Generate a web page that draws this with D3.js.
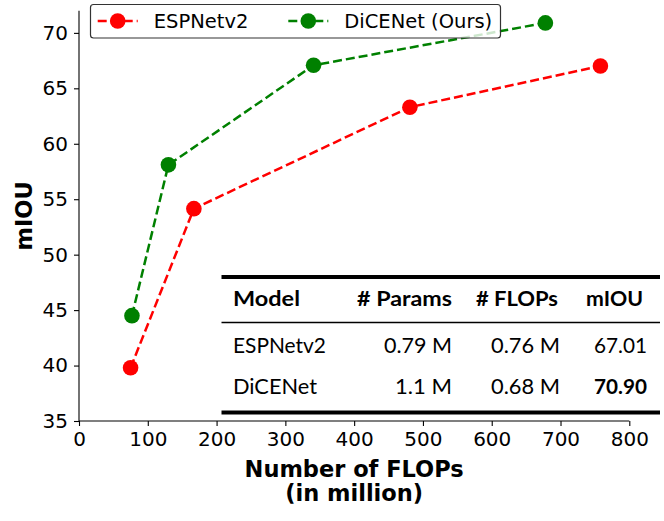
<!DOCTYPE html>
<html><head><meta charset="utf-8">
<script src="https://cdn.jsdelivr.net/npm/d3@7"></script>
<style>body{margin:0;background:#fff}svg{display:block}</style>
</head><body>
<script>
const espFlops = [75, 167, 481, 758];
const espMiou = [39.8, 54.15, 63.3, 67.01];
const diceFlops = [77, 130, 341, 678];
const diceMiou = [44.5, 58.1, 67.08, 70.9];
const xTicks = [0, 100, 200, 300, 400, 500, 600, 700, 800];
const yTicks = [35, 40, 45, 50, 55, 60, 65, 70];
const seriesNames = ["ESPNetv2", "DiCENet (Ours)"];
const seriesColors = ["#ff0000", "#008000"];
const tableHeader = ["Model", "# Params", "# FLOPs", "mIOU"];
const tableRows = [["ESPNetv2", "0.79 M", "0.76 M", "67.01"], ["DiCENet", "1.1 M", "0.68 M", "70.90"]];

const W = 664, H = 521;
const svg = d3.select("body").append("svg").attr("width", W).attr("height", H);
const x = d3.scaleLinear().domain([0, 800]).range([79, 629.3]);
const y = d3.scaleLinear().domain([35, 72]).range([421, 10.7]);
const font = "'DejaVu Sans', sans-serif";

// axes
const xa = svg.append("g").attr("transform", "translate(0,421)")
  .call(d3.axisBottom(x).tickValues(xTicks).tickSize(5).tickPadding(6).tickFormat(d3.format("d")));
const ya = svg.append("g").attr("transform", "translate(79,0)")
  .call(d3.axisLeft(y).tickValues(yTicks).tickSize(5).tickPadding(6).tickFormat(d3.format("d")));
[xa, ya].forEach(a => {
  a.selectAll("path").attr("stroke", "#000").attr("stroke-width", 1.1);
  a.selectAll("line").attr("stroke", "#000").attr("stroke-width", 1.1);
  a.selectAll("text").attr("font-family", font).attr("font-size", 20).attr("fill", "#000");
});
xa.select(".domain").attr("d", `M${x(0)},0H${x(800)}`);
ya.select(".domain").attr("d", `M0,${y(72)}V${y(35)}`);

// labels
svg.append("text").attr("x", x(400)).attr("y", 477).attr("text-anchor", "middle")
  .attr("font-family", font).attr("font-weight", "bold").attr("font-size", 22.5).text("Number of FLOPs");
svg.append("text").attr("x", x(400)).attr("y", 501).attr("text-anchor", "middle")
  .attr("font-family", font).attr("font-weight", "bold").attr("font-size", 22.5).text("(in million)");
svg.append("text").attr("transform", `translate(32,${(y(72) + y(35)) / 2}) rotate(-90)`)
  .attr("text-anchor", "middle").attr("font-family", font).attr("font-weight", "bold")
  .attr("font-size", 22.5).text("mIOU");

// series
const series = [
  espFlops.map((f, i) => [f, espMiou[i]]),
  diceFlops.map((f, i) => [f, diceMiou[i]])
];
const line = d3.line().x(d => x(d[0])).y(d => y(d[1]));
series.forEach((s, k) => {
  svg.append("path").attr("d", line(s)).attr("fill", "none")
    .attr("stroke", seriesColors[k]).attr("stroke-width", 2.5).attr("stroke-dasharray", "9,4");
  svg.selectAll(null).data(s).enter().append("circle")
    .attr("cx", d => x(d[0])).attr("cy", d => y(d[1])).attr("r", 7.8).attr("fill", seriesColors[k]);
});

// legend
const lg = svg.append("g");
lg.append("rect").attr("x", 90.5).attr("y", 4.5).attr("width", 410).attr("height", 33.5)
  .attr("rx", 3).attr("fill", "#fff").attr("fill-opacity", 0.8).attr("stroke", "#333").attr("stroke-width", 1.2);
const legX = [97.7, 288.3];
seriesNames.forEach((n, k) => {
  const g = lg.append("g");
  g.append("line").attr("x1", legX[k]).attr("x2", legX[k] + 40).attr("y1", 21).attr("y2", 21)
    .attr("stroke", seriesColors[k]).attr("stroke-width", 2.5).attr("stroke-dasharray", "9,4");
  g.append("circle").attr("cx", legX[k] + 20).attr("cy", 21).attr("r", 7.8).attr("fill", seriesColors[k]);
  g.append("text").attr("x", legX[k] + 56).attr("y", 28).attr("font-family", font)
    .attr("font-size", 19.5).text(n);
});

// table (layout: text widths fitted to the reference picture)
const tf = "Lato, 'Open Sans', sans-serif";
const t = svg.append("g");
t.append("line").attr("x1", 221.5).attr("x2", 660).attr("y1", 277).attr("y2", 277).attr("stroke", "#000").attr("stroke-width", 4);
t.append("line").attr("x1", 221.5).attr("x2", 660).attr("y1", 322.5).attr("y2", 322.5).attr("stroke", "#000").attr("stroke-width", 1.5);
t.append("line").attr("x1", 221.5).attr("x2", 660).attr("y1", 412.5).attr("y2", 412.5).attr("stroke", "#000").attr("stroke-width", 4);
const cellLeft = [[233, 357, 476, 586], [233, 384, 491, 594], [233, 395, 491, 594]];
const cellWidth = [[67, 95, 82, 57], [93, 68, 69, 53], [84, 57, 69, 53]];
const rowY = [305.5, 352.5, 394];
[tableHeader].concat(tableRows).forEach((row, r) => {
  row.forEach((cell, c) => {
    const bold = r === 0 || (r === 2 && c === 3);
    t.append("text").attr("x", cellLeft[r][c]).attr("y", rowY[r])
      .attr("textLength", cellWidth[r][c]).attr("lengthAdjust", "spacingAndGlyphs")
      .attr("font-family", tf).attr("font-size", 20.5).attr("font-weight", bold ? "bold" : "normal")
      .attr("fill", "#000").text(cell);
  });
});
</script>
</body></html>
